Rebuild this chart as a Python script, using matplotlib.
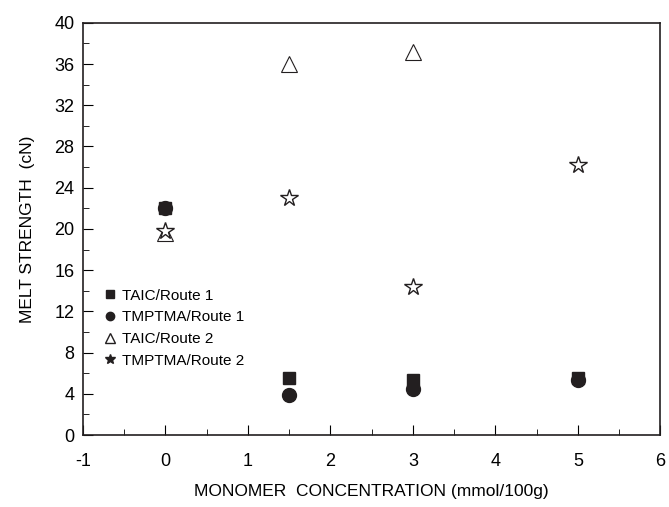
import matplotlib.pyplot as plt
from matplotlib.ticker import MultipleLocator
from matplotlib.lines import Line2D

plt.rcParams["font.family"] = ["Liberation Sans", "DejaVu Sans"]
plt.rcParams["axes.unicode_minus"] = False

# data
x_taic1 = [0, 1.5, 3, 5]
y_taic1 = [22.0, 5.5, 5.3, 5.5]

x_tmp1 = [0, 1.5, 3, 5]
y_tmp1 = [22.0, 3.9, 4.5, 5.3]

x_taic2 = [0, 1.5, 3]
y_taic2 = [19.6, 36.0, 37.2]

x_tmp2 = [0, 1.5, 3, 5]
y_tmp2 = [19.8, 23.0, 14.4, 26.2]

labels = ["TAIC/Route 1", "TMPTMA/Route 1", "TAIC/Route 2", "TMPTMA/Route 2"]

fig = plt.figure(figsize=(6.69, 5.07), dpi=100)
ax = fig.add_axes([0.124, 0.142, 0.863, 0.813])

ax.plot(x_taic1, y_taic1, "s", color="#231f20", ms=9, ls="none")
ax.plot(x_tmp1, y_tmp1, "o", color="#231f20", ms=10, ls="none")
ax.plot(x_taic2, y_taic2, "^", mfc="white", mec="#231f20", mew=0.8, ms=12, ls="none")
ax.plot(x_tmp2, y_tmp2, "*", mfc="white", mec="#231f20", mew=1.0, ms=13, ls="none")

ax.set_xlim(-1, 6)
ax.set_ylim(0, 40)
ax.xaxis.set_major_locator(MultipleLocator(1))
ax.xaxis.set_minor_locator(MultipleLocator(0.5))
ax.yaxis.set_major_locator(MultipleLocator(4))
ax.yaxis.set_minor_locator(MultipleLocator(2))
ax.tick_params(which="both", direction="in", top=False, right=False, labelsize=13)
ax.tick_params(which="major", length=7)
ax.tick_params(which="minor", length=4)
ax.tick_params(axis="x", pad=13)
ax.tick_params(axis="y", pad=6)
for s in ax.spines.values():
    s.set_linewidth(1.2)
    s.set_color("#231f20")

ax.set_xlabel("MONOMER  CONCENTRATION (mmol/100g)", fontsize=12.5, labelpad=10)
ax.set_ylabel("MELT STRENGTH  (cN)", fontsize=12.5, labelpad=14)

handles = [
    Line2D([], [], marker="s", color="#231f20", ls="none", ms=6),
    Line2D([], [], marker="o", color="#231f20", ls="none", ms=6),
    Line2D([], [], marker="^", mfc="white", mec="#231f20", ls="none", ms=7),
    Line2D([], [], marker="*", mfc="#231f20", mec="#231f20", ls="none", ms=7),
]
ax.legend(handles, labels, loc="upper left", bbox_to_anchor=(0.025, 0.37),
          frameon=False, fontsize=11, handlelength=0.8, handletextpad=0.4,
          labelspacing=0.5, borderaxespad=0)

fig.savefig("out.png", dpi=100)
